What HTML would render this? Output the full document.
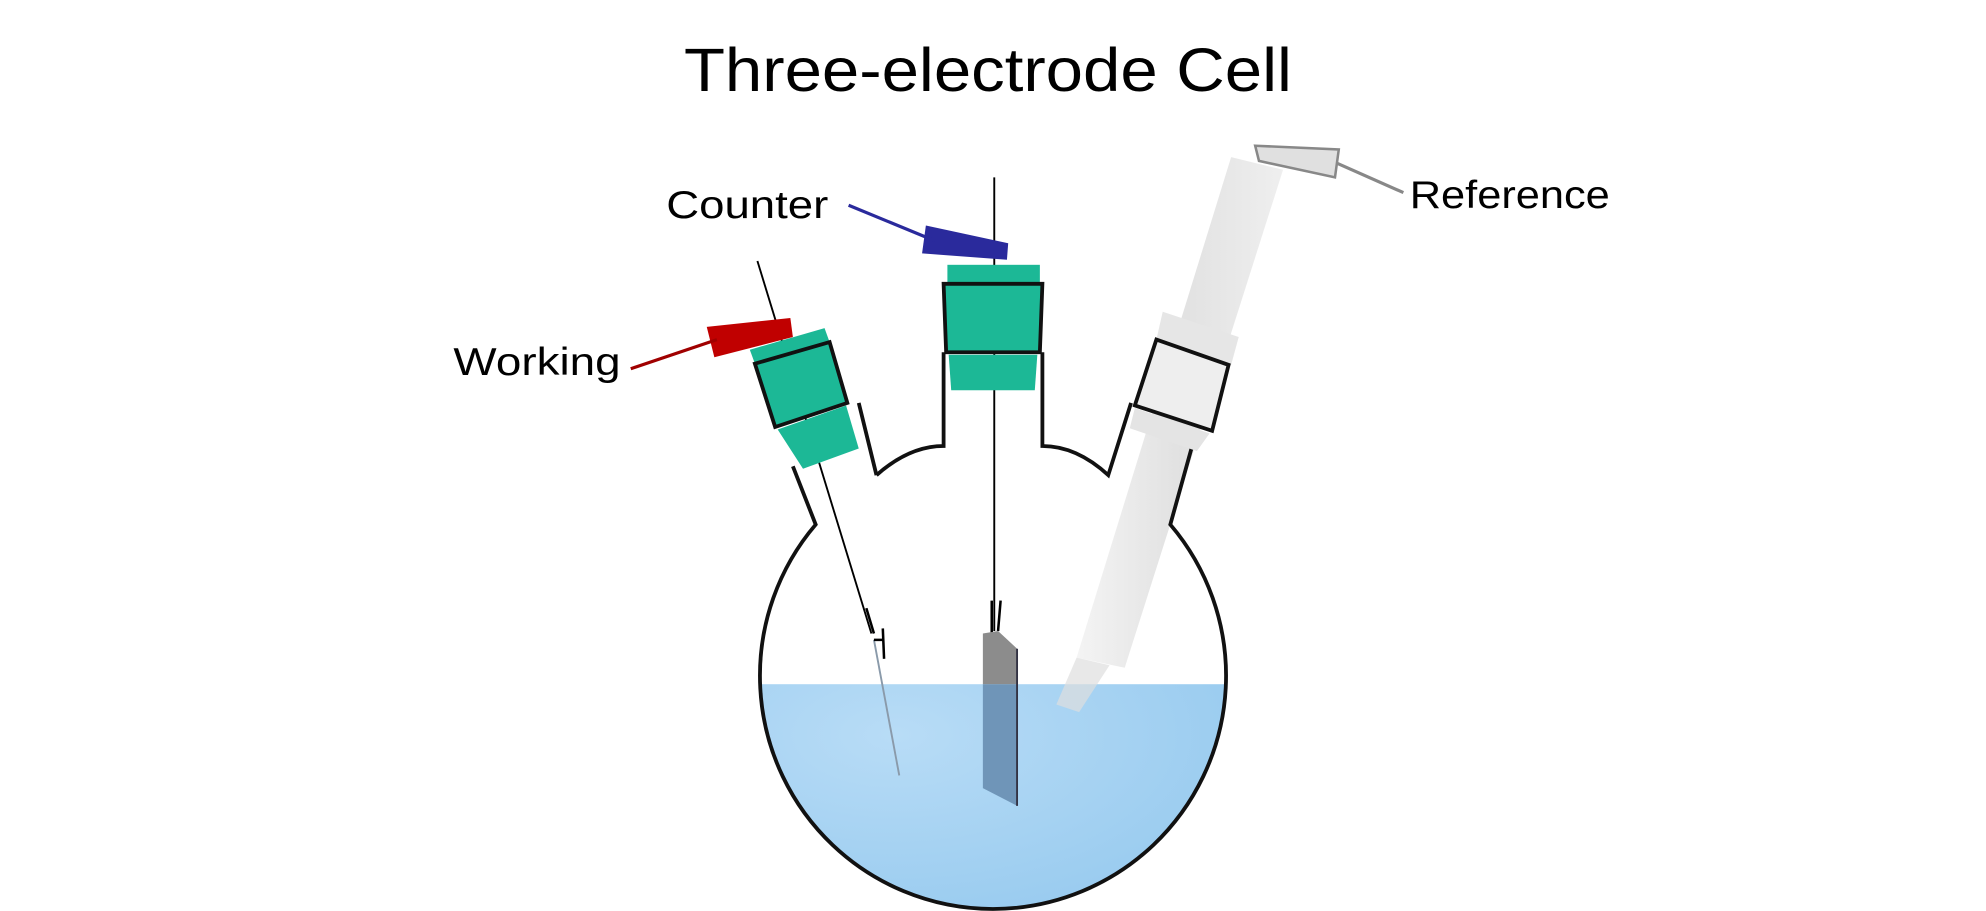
<!DOCTYPE html>
<html><head><meta charset="utf-8"><style>
html,body{margin:0;padding:0;background:#fff;}
svg{display:block;}
text{font-family:"Liberation Sans",sans-serif;fill:#000;}
</style></head><body>
<svg width="1986" height="911" viewBox="0 0 1568 719" preserveAspectRatio="none" xmlns="http://www.w3.org/2000/svg">
<defs>
<clipPath id="bulb"><circle cx="784" cy="534" r="184"/></clipPath>
<linearGradient id="tube" x1="0" y1="0" x2="1" y2="0">
<stop offset="0" stop-color="#f2f2f2"/><stop offset="0.5" stop-color="#dcdcdc"/><stop offset="1" stop-color="#ececec"/>
</linearGradient>
<radialGradient id="liq" cx="0.3" cy="0.2" r="0.9">
<stop offset="0" stop-color="#b8dcf6"/><stop offset="1" stop-color="#93c8ee"/>
</radialGradient>
</defs>
<text x="780" y="72" font-size="48" text-anchor="middle" textLength="480" lengthAdjust="spacingAndGlyphs">Three-electrode Cell</text>

<g clip-path="url(#bulb)">
<rect x="590" y="540" width="390" height="200" fill="url(#liq)"/>
</g>

<polygon points="972,124 1013,134 888,527 850,519" fill="url(#tube)" opacity="0.85"/>
<polygon points="850,519 876,525 852,562 834,556" fill="#dedede" opacity="0.7"/>

<line x1="785" y1="140" x2="785" y2="498" stroke="#000" stroke-width="1.5"/>
<line x1="598" y1="206" x2="688" y2="500" stroke="#000" stroke-width="1.5"/>
<line x1="690" y1="505" x2="710" y2="612" stroke="#8a9aaa" stroke-width="1.5"/>
<path d="M684,480 L690,500 M697,496 L698,520 M690,505 L698,505" stroke="#000" stroke-width="2" fill="none"/>
<path d="M783,474 L783,500 M790,474 L788,498" stroke="#000" stroke-width="2" fill="none"/>

<polygon points="776,500 788,498 803,512 803,540 776,540" fill="#8c8c8c"/>
<polygon points="776,540 803,540 803,636 776,622" fill="#6f95b8"/>
<line x1="803" y1="512" x2="803" y2="636" stroke="#334" stroke-width="1.5"/>

<path d="M626,368 L644,414 A184 184 0 1 0 924,414 L944,342 M692,375 L678,318 M692,375 Q718,352 745,352 L745,278 M823,278 L823,352 Q850,352 875,375 L893,318" fill="none" stroke="#111" stroke-width="3"/>

<rect x="748" y="209" width="73" height="15" fill="#1cb896"/>
<polygon points="745,224 823,224 821,278 747,278" fill="#1cb896" stroke="#111" stroke-width="3"/>
<polygon points="749,280 819,280 817,308 751,308" fill="#1cb896"/>

<polygon points="592,276 651,259 655,270 596,287" fill="#1cb896"/>
<polygon points="596,287 655,270 669,318 612,337" fill="#1cb896" stroke="#111" stroke-width="3"/>
<polygon points="614,339 668,320 678,354 634,370" fill="#1cb896"/>

<polygon points="918,246 978,266 972,288 913,268" fill="#e6e6e6"/>
<polygon points="913,268 970,288 957,340 896,320" fill="#eeeeee" stroke="#111" stroke-width="3"/>
<polygon points="896,322 955,342 945,356 892,338" fill="#e4e4e4"/>

<polygon points="558,258 624,251 626,266 564,282" fill="#c00000"/>
<line x1="498" y1="291" x2="566" y2="268" stroke="#a00000" stroke-width="2.5"/>
<polygon points="731,178 796,192 795,205 728,200" fill="#2a2a9c"/>
<line x1="670" y1="162" x2="738" y2="190" stroke="#2a2a9c" stroke-width="2.5"/>
<polygon points="991,115 1057,118 1054,140 994,127" fill="#e0e0e0" stroke="#888" stroke-width="2"/>
<line x1="1056" y1="129" x2="1108" y2="152" stroke="#888" stroke-width="2.5"/>

<text x="358" y="296" font-size="31" textLength="132" lengthAdjust="spacingAndGlyphs">Working</text>
<text x="526" y="172" font-size="31" textLength="128" lengthAdjust="spacingAndGlyphs">Counter</text>
<text x="1113" y="164" font-size="31" textLength="158" lengthAdjust="spacingAndGlyphs">Reference</text>
</svg>
</body></html>
